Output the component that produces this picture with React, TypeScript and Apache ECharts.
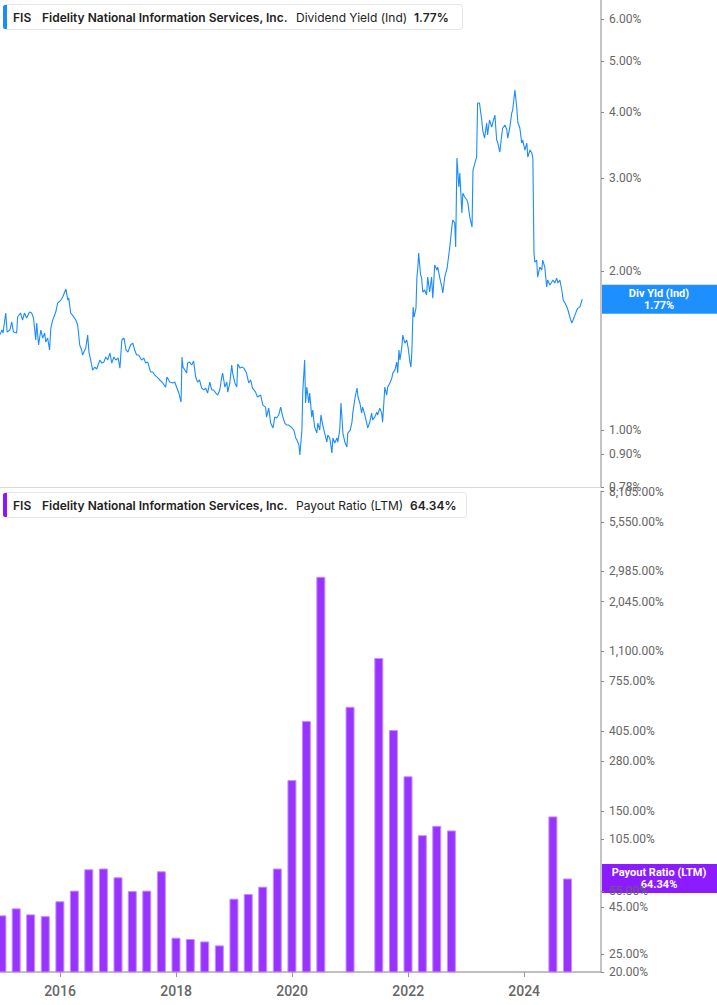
import React, { useEffect, useRef } from 'react';
import * as echarts from 'echarts';

const yieldDates = [
  '2014-12-17','2015-01-01','2015-01-07','2015-01-24','2015-02-02','2015-02-19','2015-03-03','2015-03-14','2015-04-03','2015-04-09',
  '2015-04-27','2015-05-10','2015-05-22','2015-06-05','2015-06-23','2015-07-06','2015-07-18','2015-08-01','2015-08-07','2015-08-19',
  '2015-09-02','2015-09-14','2015-09-26','2015-10-03','2015-10-15','2015-10-27','2015-11-04','2015-11-16','2015-12-05','2015-12-17',
  '2016-01-06','2016-01-18','2016-02-07','2016-02-19','2016-02-25','2016-03-08','2016-03-20','2016-04-09','2016-04-21','2016-05-04',
  '2016-05-16','2016-05-22','2016-06-11','2016-06-23','2016-07-01','2016-07-12','2016-07-24','2016-08-07','2016-08-19','2016-09-08',
  '2016-09-20','2016-10-03','2016-10-15','2016-10-27','2016-11-10','2016-11-22','2016-12-05','2016-12-17','2017-01-01','2017-01-12',
  '2017-01-24','2017-02-07','2017-02-19','2017-03-03','2017-03-20','2017-04-03','2017-04-15','2017-04-27','2017-05-10','2017-05-28',
  '2017-06-11','2017-06-23','2017-07-06','2017-07-24','2017-08-07','2017-08-19','2017-09-03','2017-09-20','2017-10-09','2017-10-27',
  '2017-11-04','2017-11-22','2017-12-11','2017-12-23','2018-01-06','2018-01-18','2018-02-01','2018-02-07','2018-02-13','2018-02-25',
  '2018-03-08','2018-03-14','2018-03-26','2018-04-09','2018-04-21','2018-05-04','2018-05-16','2018-05-28','2018-06-11','2018-06-23',
  '2018-07-06','2018-07-18','2018-08-01','2018-08-13','2018-08-25','2018-09-08','2018-09-20','2018-10-03','2018-10-15','2018-10-21',
  '2018-11-04','2018-11-16','2018-11-22','2018-12-05','2018-12-17','2018-12-23','2019-01-06','2019-01-18','2019-01-24','2019-02-07',
  '2019-02-19','2019-03-03','2019-03-20','2019-04-03','2019-04-15','2019-04-27','2019-05-16','2019-05-28','2019-06-17','2019-07-01',
  '2019-07-18','2019-07-24','2019-08-07','2019-08-19','2019-09-03','2019-09-14','2019-09-26','2019-10-09','2019-10-21','2019-11-04',
  '2019-11-16','2019-11-28','2019-12-11','2020-01-01','2020-01-12','2020-01-24','2020-02-01','2020-02-13','2020-02-19','2020-03-03',
  '2020-03-08','2020-03-20','2020-03-26','2020-04-03','2020-04-15','2020-04-21','2020-05-04','2020-05-10','2020-05-22','2020-06-05',
  '2020-06-11','2020-06-23','2020-07-01','2020-07-12','2020-07-24','2020-08-07','2020-08-13','2020-08-25','2020-09-08','2020-09-14',
  '2020-09-26','2020-10-09','2020-10-15','2020-10-27','2020-11-04','2020-11-16','2020-11-28','2020-12-11','2020-12-17','2021-01-01',
  '2021-01-12','2021-01-18','2021-02-01','2021-02-13','2021-02-19','2021-03-03','2021-03-14','2021-03-20','2021-04-03','2021-04-15',
  '2021-04-21','2021-05-04','2021-05-16','2021-05-22','2021-06-05','2021-06-17','2021-06-23','2021-07-06','2021-07-18','2021-07-24',
  '2021-08-07','2021-08-19','2021-08-25','2021-09-08','2021-09-20','2021-09-26','2021-10-09','2021-10-21','2021-10-27','2021-11-04',
  '2021-11-10','2021-11-22','2021-11-28','2021-12-11','2021-12-23','2022-01-01','2022-01-12','2022-01-18','2022-01-24','2022-02-01',
  '2022-02-07','2022-02-19','2022-02-25','2022-03-03','2022-03-08','2022-03-20','2022-03-26','2022-04-03','2022-04-15','2022-04-27',
  '2022-05-04','2022-05-16','2022-05-28','2022-06-05','2022-06-17','2022-07-01','2022-07-06','2022-07-18','2022-08-01','2022-08-07',
  '2022-08-19','2022-09-03','2022-09-08','2022-09-20','2022-10-03','2022-10-09','2022-10-21','2022-10-27','2022-11-04','2022-11-16',
  '2022-11-22','2022-12-05','2022-12-11','2022-12-23','2023-01-06','2023-01-12','2023-01-24','2023-02-07','2023-02-13','2023-02-25',
  '2023-03-08','2023-03-14','2023-03-26','2023-04-09','2023-04-15','2023-04-27','2023-05-10','2023-05-16','2023-05-28','2023-06-11',
  '2023-06-17','2023-07-01','2023-07-12','2023-07-18','2023-08-01','2023-08-13','2023-08-19','2023-09-03','2023-09-14','2023-09-20',
  '2023-10-03','2023-10-15','2023-10-21','2023-11-04','2023-11-16','2023-11-22','2023-12-05','2023-12-17','2023-12-23','2024-01-06',
  '2024-01-18','2024-01-24','2024-02-07','2024-02-19','2024-02-25','2024-03-03','2024-03-08','2024-03-20','2024-03-26','2024-04-09',
  '2024-04-21','2024-04-27','2024-05-10','2024-05-22','2024-05-28','2024-06-11','2024-06-23','2024-07-01','2024-07-12','2024-07-24',
  '2024-08-01','2024-08-13','2024-08-25','2024-09-03','2024-09-14','2024-09-26','2024-10-03','2024-10-15','2024-10-27','2024-11-04',
  '2024-11-16','2024-11-28','2024-12-05','2024-12-17','2025-01-01'
];

const yieldValues = [
  1.513,1.547,1.527,1.666,1.533,1.547,1.602,1.533,1.527,1.637,
  1.666,1.616,1.666,1.630,1.673,1.666,1.630,1.481,1.595,1.449,
  1.547,1.494,1.527,1.468,1.494,1.418,1.560,1.616,1.673,1.740,
  1.763,1.786,1.850,1.763,1.778,1.666,1.651,1.616,1.581,1.449,
  1.418,1.387,1.430,1.513,1.405,1.357,1.299,1.316,1.305,1.357,
  1.339,1.345,1.375,1.357,1.399,1.339,1.375,1.357,1.369,1.310,
  1.481,1.494,1.418,1.405,1.449,1.461,1.418,1.387,1.387,1.357,
  1.369,1.339,1.345,1.288,1.288,1.271,1.260,1.244,1.228,1.206,
  1.260,1.233,1.228,1.233,1.201,1.175,1.130,1.375,1.316,1.299,
  1.282,1.339,1.345,1.328,1.351,1.260,1.233,1.244,1.201,1.191,
  1.201,1.175,1.233,1.191,1.191,1.175,1.165,1.191,1.260,1.282,
  1.206,1.233,1.180,1.228,1.328,1.282,1.228,1.206,1.334,1.310,
  1.316,1.310,1.282,1.228,1.244,1.201,1.180,1.155,1.165,1.115,
  1.105,1.058,1.100,1.031,1.009,1.058,1.054,1.068,1.105,1.058,
  1.031,1.022,1.022,1.009,1.000,0.966,0.957,0.937,0.897,1.000,
  1.175,1.357,1.125,1.206,1.125,1.175,1.058,1.091,1.013,0.987,
  1.031,1.000,1.068,1.022,0.987,0.949,0.978,0.966,0.905,0.966,
  0.945,0.966,0.949,1.000,1.125,0.987,0.949,0.929,0.987,1.000,
  1.035,1.081,1.155,1.201,1.155,1.125,1.077,1.105,1.068,1.031,
  1.009,1.035,1.077,1.045,1.058,1.081,1.068,1.100,1.077,1.035,
  1.206,1.165,1.206,1.228,1.254,1.282,1.299,1.345,1.282,1.418,
  1.357,1.436,1.513,1.461,1.481,1.430,1.345,1.316,1.399,1.710,
  1.637,1.702,1.949,2.036,2.164,1.966,1.949,1.826,1.842,1.802,
  1.949,1.826,1.949,1.778,2.054,2.010,2.036,1.949,1.866,1.818,
  1.949,2.027,2.081,2.221,2.424,2.499,2.467,2.221,3.275,2.886,
  3.068,2.577,2.810,2.763,2.727,2.691,2.532,2.424,3.108,3.204,
  3.289,4.163,4.163,3.866,3.701,3.573,3.815,3.621,3.866,3.749,
  3.815,3.951,3.543,3.512,3.362,3.621,3.734,3.782,3.701,3.573,
  3.749,3.986,4.038,4.406,4.074,3.832,3.734,3.497,3.543,3.392,
  3.497,3.289,3.392,3.347,3.275,2.164,2.081,2.099,1.949,2.036,
  2.010,2.099,2.036,1.866,1.924,1.882,1.907,1.924,1.899,1.940,
  1.899,1.924,1.842,1.763,1.740,1.710,1.688,1.637,1.595,1.616,
  1.651,1.688,1.702,1.710,1.77
];

const payoutDates = [
  '2014-12-31','2015-03-31','2015-06-30','2015-09-30','2015-12-31','2016-03-31','2016-06-30','2016-09-30',
  '2016-12-31','2017-03-31','2017-06-30','2017-09-30','2017-12-31','2018-03-31','2018-06-30','2018-09-30',
  '2018-12-31','2019-03-31','2019-06-30','2019-09-30','2019-12-31','2020-03-31','2020-06-30','2020-09-30',
  '2020-12-31','2021-03-31','2021-06-30','2021-09-30','2021-12-31','2022-03-31','2022-06-30','2022-09-30',
  '2022-12-31','2023-03-31','2023-06-30','2023-09-30','2023-12-31','2024-03-31','2024-06-30','2024-09-30'
];

const payoutValues: (number | null)[] = [
  40.6, 44.3, 41.1, 40.2, 48.4, 55.3, 72.2, 72.9,
  65.3, 55.0, 55.3, 70.4, 30.7, 30.2, 29.3, 27.9,
  50.0, 53.0, 58.1, 72.9, 220, 461, 2791, null,
  550, null, 1012, 411, 230.7, 110.6, 124.3, 117.3,
  null, null, null, null, null, null, 139.8, 64.34
];

const yieldTicks = [0.78, 0.9, 1, 2, 3, 4, 5, 6];
const payoutTicks = [20, 25, 45, 55, 105, 150, 280, 405, 755, 1100, 2045, 2985, 5550, 8105];
const yearTicks = ['2016-01-01', '2018-01-01', '2020-01-01', '2022-01-01', '2024-01-01'];

const companyName = 'Fidelity National Information Services, Inc.';
const ticker = 'FIS';

export default function App() {
  const ref = useRef<HTMLDivElement>(null);

  useEffect(() => {
    if (!ref.current) return;
    const chart = echarts.init(ref.current, null, { renderer: 'svg' });
    const font = 'Roboto, "Noto Sans", sans-serif';
    const legendFont = 'Inter, Roboto, sans-serif';
    const pctFmt = (v: number) =>
      Number(v).toLocaleString('en-US', { minimumFractionDigits: 2, maximumFractionDigits: 2 }) + '%';
    const ts = (d: string) => Date.parse(d + 'T00:00:00Z');
    const xMin = ts('2014-12-19');
    const xMax = ts('2025-04-29');
    const yearTickTs = yearTicks.map(ts);

    const yAxisCommon = {
      type: 'log',
      logBase: 10,
      position: 'right',
      splitLine: { show: false },
      axisLine: { show: true, lineStyle: { color: '#c4c4c4', width: 2 } },
    };

    chart.setOption({
      animation: false,
      textStyle: { fontFamily: font },
      grid: [
        { left: 0, right: 116, top: 0, height: 487 },
        { left: 0, right: 116, top: 491.5, height: 480.5 },
      ],
      xAxis: [
        {
          type: 'value', gridIndex: 0, min: xMin, max: xMax, scale: true,
          axisLine: { show: true, lineStyle: { color: '#d9d9d9', width: 1 } },
          axisTick: { show: false }, axisLabel: { show: false }, splitLine: { show: false },
        },
        {
          type: 'value', gridIndex: 1, min: xMin, max: xMax, scale: true,
          axisLine: { show: true, lineStyle: { color: '#aaaaaa', width: 1.5 } },
          axisTick: { show: true, length: 5, customValues: yearTickTs, lineStyle: { color: '#999' } },
          axisLabel: {
            customValues: yearTickTs,
            formatter: (v: number) => String(new Date(v).getUTCFullYear()),
            color: '#666', fontSize: 14, fontWeight: 500, margin: 12, fontFamily: font,
          },
          splitLine: { show: false },
        },
      ],
      yAxis: [
        {
          ...yAxisCommon, gridIndex: 0, min: 0.78, max: 6.526,
          axisTick: { show: true, length: 3, customValues: yieldTicks, lineStyle: { color: '#888' } },
          axisLabel: { customValues: yieldTicks, formatter: (v: number) => pctFmt(v), color: '#666', fontSize: 12, margin: 8, fontFamily: font },
        },
        {
          ...yAxisCommon, gridIndex: 1, min: 20, max: 8105,
          axisTick: { show: true, length: 3, customValues: payoutTicks, lineStyle: { color: '#888' } },
          axisLabel: { customValues: payoutTicks, formatter: (v: number) => pctFmt(v), color: '#666', fontSize: 12, margin: 8, fontFamily: font },
        },
      ],
      series: [
        {
          type: 'line', xAxisIndex: 0, yAxisIndex: 0,
          data: yieldDates.map((d, i) => [ts(d), yieldValues[i]]),
          symbol: 'none', showSymbol: false,
          lineStyle: { color: '#1a8cff', width: 1.1 },
          clip: true,
        },
        {
          type: 'bar', xAxisIndex: 1, yAxisIndex: 1,
          data: payoutDates.map((d, i) => [ts(d), payoutValues[i] == null ? '-' : payoutValues[i]]),
          barWidth: 9,
          itemStyle: { color: '#9933ff', borderColor: '#c390ff', borderWidth: 1 },
          clip: true,
        },
      ],
    });

    const lastYield = yieldValues[yieldValues.length - 1];
    const payoutNonNull = payoutValues.filter((v) => v != null) as number[];
    const lastPayout = payoutNonNull[payoutNonNull.length - 1];
    const yY = chart.convertToPixel({ yAxisIndex: 0 }, lastYield) as number;
    const yP = chart.convertToPixel({ yAxisIndex: 1 }, lastPayout) as number;

    const txt = (x: number, y: number, text: string, bold: boolean) => ({
      type: 'text', x, y,
      style: { text, fill: '#222', fontSize: 12, fontWeight: bold ? 600 : 'normal', fontFamily: legendFont, verticalAlign: 'middle' },
    });

    const legend = (top: number, color: string, metric: string, value: string, boxW: number, metricX: number, valueX: number) => ({
      type: 'group',
      z: 100,
      children: [
        { type: 'rect', shape: { x: 3.5, y: top + 0.5, width: boxW, height: 25, r: 3 }, style: { fill: '#fff', stroke: '#e6e6e6', lineWidth: 1 } },
        { type: 'rect', shape: { x: 3, y: top + 1, width: 4, height: 24, r: [2, 0, 0, 2] }, style: { fill: color } },
        txt(13, top + 13, ticker, true),
        txt(42, top + 13, companyName, true),
        txt(metricX, top + 13, metric, false),
        txt(valueX, top + 13, value, true),
      ],
    });

    const tag = (y: number, color: string, text: string) => ({
      type: 'group',
      z: 100,
      children: [
        { type: 'rect', shape: { x: 601, y: y - 14.5, width: 116, height: 29 }, style: { fill: color } },
        { type: 'text', x: 659, y: y, style: { text, fill: '#fff', fontSize: 11, fontWeight: 'bold', fontFamily: font, align: 'center', verticalAlign: 'middle', lineHeight: 12 } },
      ],
    });

    chart.setOption({
      graphic: [
        legend(4, '#1a8cff', 'Dividend Yield (Ind)', pctFmt(lastYield), 459, 296, 414),
        legend(492, '#9013fe', 'Payout Ratio (LTM)', pctFmt(lastPayout), 463, 296, 410),
        tag(yY, '#1e8fff', 'Div Yld (Ind)\n' + pctFmt(lastYield)),
        tag(yP, '#8c1cff', 'Payout Ratio (LTM)\n' + pctFmt(lastPayout)),
      ],
    });

    return () => chart.dispose();
  }, []);

  return <div ref={ref} style={{ position: 'absolute', left: 0, top: 0, width: 717, height: 1005 }} />;
}
